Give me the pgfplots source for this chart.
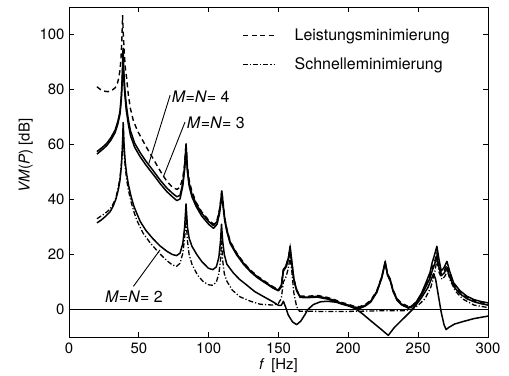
\documentclass[border=0pt]{standalone}
\usepackage{pgfplots}
\pgfplotsset{compat=1.18}
\usepackage{fontspec}
\setmainfont{TeX Gyre Heros}
\begin{document}
\begin{tikzpicture}
\tikzset{
  solidc/.style={black, line width=1.5bp, line join=round},
  dashc/.style={black, line width=1.4bp, dash pattern=on 5bp off 3.5bp},
  ddc/.style={black, line width=1.3bp, dash pattern=on 5bp off 2bp on 1.2bp off 2bp},
}
\begin{axis}[
  at={(0,0)}, anchor=south west,
  scale only axis, width=419bp, height=330bp,
  xmin=0, xmax=300, ymin=-10, ymax=110,
  xtick={0,50,...,300}, ytick={0,20,...,100},
  tick align=inside, tick pos=both, major tick length=5bp,
  axis line style={line width=0.8bp}, tick style={line width=0.8bp, black},
  /pgf/number format/assume math mode=true,
  ticklabel style={font=\fontsize{15}{15}\selectfont},
  xticklabel style={yshift=-2bp},
  yticklabel style={xshift=-1bp},
  xlabel={\textit{f}\, [Hz]}, ylabel={\textit{VM}(\textit{P}) [dB]},
  label style={font=\fontsize{15}{15}\selectfont},
  xlabel style={at={(ticklabel cs:0.5)}, anchor=north, yshift=2bp},
  ylabel style={at={(ticklabel cs:0.55)}, anchor=south, yshift=0bp},
  legend style={at={(0.406,0.947)}, anchor=north west, draw=none, fill=none,
    font=\fontsize{16}{19}\selectfont, row sep=12bp,
    /tikz/every odd column/.style={column sep=18bp}},
  legend cell align=left,
  legend image code/.code={\draw[#1] (0bp,0bp) -- (31bp,0bp);},
  clip=true,
]
\addlegendimage{dashc}
\addlegendentry{Leistungsminimierung}
\addlegendimage{ddc}
\addlegendentry{Schnelleminimierung}

% M=N=2 solid
\addplot[solidc, forget plot] coordinates {
(20,31.5)(23,32.5)(26,33.8)(29.4,35.5)(31.5,37.5)(33.5,40)(35.3,43.5)(36.5,47)(37.5,52)(38.2,58)(38.8,68)(39.4,60)(40.2,54)(41.2,49.5)(42.5,45.5)(44.5,41)(46.5,37.5)(48.5,35)(51,32)(55,28.8)(60,25.8)(65,23.2)(70,21.2)(74,20)(77,19.6)(79.5,20.5)(81.5,24)(82.8,30)(83.8,38.4)(84.8,30)(86,26)(88,23)(91.5,20)(95,17.5)(99.8,15)(103,14.5)(105.5,15.5)(107.3,19)(108.5,25)(109.2,31)(110,25)(111.2,20)(113,16.5)(117.5,13.4)(122,11)(127,9)(133,6.5)(140,4.5)(146,2.8)(150,1.5)(152,1.5)(153.5,3)(155,1)(157,-2)(160,-4.5)(163,-5.5)(166,-4.2)(169,-1.8)(171,0)(175,1.8)(180,2.8)(185,3)(192,2.6)(200,1.5)(205,0.3)(210,-1.5)(217,-4.5)(223,-7)(228.6,-9.4)(233,-6.5)(240,-3)(246,0)(252,4)(257,8)(261,13)(262.5,11)(264.5,5)(266.5,-1)(268.5,-5.5)(270,-7.3)(272,-6.5)(276,-5.3)(282,-4.4)(290,-3.3)(300,-2.4)
};
% M=N=2 dash-dot
\addplot[ddc, forget plot] coordinates {
(20,33)(23,34)(26,35)(29.4,36.5)(31.5,38.3)(33.5,40.5)(35.3,44.5)(36.5,48)(37.5,53)(38.2,59)(38.8,66)(39.4,58)(40.2,52)(41.2,47.5)(42.5,43.5)(44.5,39)(46.5,35.5)(48.5,32.5)(53,27.8)(58,24.3)(62,22)(65.2,20.2)(70,17.8)(74,16.2)(77,15.7)(79.5,16.8)(81.5,20.5)(82.8,26)(83.8,33)(84.8,25)(86,20)(88,16.5)(92,12.5)(96,10.2)(99.8,9)(103,8.8)(105.5,10)(107.3,13)(108.5,18)(109.2,25)(110,18)(111.2,13)(113,10.3)(117,7)(122.5,4.6)(130,3)(137,1.9)(146.4,1.6)(150,2.3)(152,4)(153.5,10)(155.5,12)(157,15)(158.3,19)(159.5,14)(161,6)(163,1)(165,-0.6)(180,-0.7)(200,-0.7)(220,-0.5)(240,-0.4)(245,0)(250,1.5)(255,4)(259,8)(261.5,12.5)(263.4,18)(265,13.5)(267,11)(269,12)(271,14)(273,10.5)(277,6.5)(282,3.8)(290,1.6)(300,0.7)
};
% M=N=3 solid
\addplot[solidc, forget plot] coordinates {
(20,56.5)(24,58.2)(27,59.6)(30,61.6)(33,64.3)(35,67.5)(36.5,71)(37.5,76.5)(38.2,84)(38.7,91)(39.2,84)(40,78)(41,72.5)(42.5,67.3)(44,63.3)(47,59)(51,55.5)(55,52.6)(58,50.6)(62,48)(65.2,45.8)(70,42.9)(74,41)(77.2,39.6)(79.5,40.2)(81.5,45)(82.8,51)(83.8,58)(84.8,50)(86,45)(88,41)(91,37.5)(95,34)(100,31)(103.5,29.5)(106,31)(107.8,35)(108.8,39)(109.4,42)(110.2,38)(111.5,32.3)(113,28.4)(115.4,24)(120,19.9)(125,16.4)(130,13.7)(135,11.5)(141.6,9.3)(146,7.8)(150,6.8)(152,8.2)(153.5,14)(155.5,15.5)(157.2,18.5)(158.3,22)(159.5,17)(161,10.7)(163,6.8)(165.5,4.4)(170,4.3)(178,4.5)(185,3.8)(190,3)(195,2)(200,1.3)(204,0.6)(208,0.4)(212,1.2)(216,2.7)(220.4,6.2)(224,11.5)(226.4,17)(228,12.5)(230,10.4)(232,6.6)(234.8,3.4)(238,1.7)(243,0.5)(246,1)(249,2.6)(252.5,5.3)(256,8.8)(258.5,11.5)(260,14)(261.8,16.5)(263.4,19.5)(264.8,15.5)(266.5,12.3)(268.5,13.2)(270.6,15)(272.5,12)(275.4,8.4)(280,5.7)(285,3.9)(290,2.8)(295,2.1)(300,1.6)
};
% M=N=4 solid
\addplot[solidc, forget plot] coordinates {
(20,57.4)(24,59)(27,60.4)(30,62.5)(33,65.2)(35,68.5)(36.5,72)(37.5,78)(38.2,86)(38.7,95)(39.2,87)(40,80)(41,74.5)(42.5,69)(44,65)(47,60.5)(51,57)(55,54)(58,52)(62,49.3)(65.2,47.1)(70,44.2)(74,42.3)(77.2,41)(79.5,41.5)(81.5,46)(82.8,52)(83.8,60)(84.8,51)(86,46)(88,42)(91,38.5)(95,35)(100,32)(103.5,30.5)(106,32)(107.8,36)(108.8,40)(109.4,43)(110.2,39)(111.5,33)(113,29)(115.4,24.5)(120,20.3)(125,16.8)(130,14)(135,11.8)(141.6,9.5)(146,8)(150,7)(152,8.5)(153.5,14.5)(155.5,16)(157.2,19)(158.3,23)(159.5,17.5)(161,11)(163,7)(165.5,4.6)(170,4.5)(178,4.8)(185,4.1)(190,3.3)(195,2.3)(200,1.6)(204,0.9)(208,0.7)(212,1.5)(216,3)(220.4,6.6)(224,12)(226.4,17.5)(228,13)(230,10.9)(232,7)(234.8,3.8)(238,2)(243,0.8)(246,1.3)(249,3)(252.5,6)(256,10.3)(258.5,13.5)(260,17)(261.8,20)(263.4,23)(264.8,18.5)(266.5,14)(268.5,15.2)(270.6,17.5)(272.5,14)(275.4,9.7)(280,6.8)(285,4.8)(290,3.6)(295,2.9)(300,2.4)
};
% M=N=4 dashed
\addplot[dashc, forget plot] coordinates {
(20,81)(22.5,80)(25,79.4)(28,79.2)(31,79.8)(33,80.6)(34.5,81.8)(35.5,84)(36.5,87)(37.2,91)(37.7,96.6)(38.1,102)(38.4,107)(38.8,101)(39.5,94)(40.3,88)(41.3,84)(42.5,78)(44,73)(46,68.8)(49,65)(52,62.2)(55,59.4)(58,56.8)(61,54.2)(64,51.5)(67,49)(70,46.7)(73,45)(75.5,44)(77.5,43.7)(79.5,44.5)(81.5,48)(82.8,53)(83.8,60.5)(84.8,52)(86,47)(88,43)(91,39)(95,35.5)(100,32.5)(103.5,31)(106,32.5)(107.8,36.5)(108.8,40.5)(109.4,43.5)(110.2,39.5)(111.5,33.3)(113,29.3)(115.4,24.8)(120,20.6)(125,17.1)(130,14.3)(135,12.1)(141.6,9.8)(146,8.3)(150,7.3)(152,8.8)(153.5,14.5)(155.5,16.2)(157.2,19.2)(158.3,22.5)(159.5,17.5)(161,11.2)(163,7.2)(165.5,4.9)(170,4.8)(178,5.1)(185,4.4)(190,3.6)(195,2.6)(200,1.9)(204,1.2)(208,1)(212,1.8)(216,3.3)(220.4,6.8)(224,12)(226.4,17)(228,13)(230,11)(232,7.2)(234.8,4)(238,2.3)(243,1.1)(246,1.5)(249,3)(252.5,5.8)(256,9.5)(258.5,12.5)(260,15)(261.8,17.5)(263.4,20.5)(264.8,16.5)(266.5,13)(268.5,14)(270.6,16.2)(272.5,13)(275.4,9)(280,6.3)(285,4.4)(290,3.2)(295,2.5)(300,2)
};
% zero line
\addplot[black, line width=1bp, forget plot] coordinates {(0,0)(300,0)};

% labels with pointer lines
\draw[black, line width=0.9bp] (axis cs:72.4,77.9) -- (axis cs:56.8,52.5);
\draw[black, line width=0.9bp] (axis cs:83.1,68.2) -- (axis cs:67.6,48.3);
\draw[black, line width=0.9bp] (axis cs:46.1,8.4) -- (axis cs:65.2,21.7);
\node[anchor=west, inner sep=1bp, font=\fontsize{16}{16}\selectfont] at (axis cs:72.8,77.3) {\textit{M}=\textit{N}= 4};
\node[anchor=west, inner sep=1bp, font=\fontsize{16}{16}\selectfont] at (axis cs:83.6,67.8) {\textit{M}=\textit{N}= 3};
\node[anchor=center, inner sep=1bp, font=\fontsize{16}{16}\selectfont] at (axis cs:46.5,4.6) {\textit{M}=\textit{N}= 2};
\end{axis}
\path[use as bounding box] (-69bp,-39bp) rectangle (440bp,337bp);
\end{tikzpicture}
\end{document}
